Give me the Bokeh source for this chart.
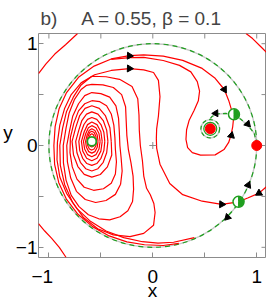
from bokeh.plotting import figure
from bokeh.models import Range1d, FixedTicker
from bokeh.embed import file_html
from bokeh.resources import INLINE
import math

# ---------------- data ----------------
tick_values = [-1, -0.5, 0, 0.5, 1]
x_tick_labels = {-1: "\u22121\u2002\u2009", -0.5: "", 0: "0", 0.5: "", 1: "1"}
y_tick_labels = {-1: "\u22121", -0.5: "", 0: "0", 0.5: "", 1: "1"}

center_pt = (-0.587, 0.04)
stable_pts_x = [0.553, 1.0]
stable_pts_y = [0.164, 0.0]
saddle_pts_x = [0.781, 0.825]
saddle_pts_y = [0.306, -0.553]
small_cycle = (0.553, 0.164, 0.09)

orbit_1 = [(-0.557, 0.040), (-0.561, 0.078), (-0.572, 0.105), (-0.587, 0.115), (-0.602, 0.105), (-0.613, 0.078),
           (-0.617, 0.040), (-0.613, 0.013), (-0.602, -0.008), (-0.587, -0.015), (-0.572, -0.008), (-0.561, 0.013)]
orbit_2 = [(-0.542, 0.040), (-0.548, 0.090), (-0.565, 0.127), (-0.587, 0.140), (-0.608, 0.127), (-0.623, 0.090),
           (-0.632, 0.040), (-0.626, -0.003), (-0.610, -0.034), (-0.587, -0.045), (-0.565, -0.034), (-0.548, -0.003)]
orbit_3 = [(-0.527, 0.040), (-0.535, 0.103), (-0.557, 0.148), (-0.587, 0.165), (-0.612, 0.148), (-0.632, 0.103),
           (-0.647, 0.040), (-0.639, -0.018), (-0.617, -0.060), (-0.587, -0.075), (-0.557, -0.060), (-0.535, -0.018)]
orbit_4 = [(-0.507, 0.040), (-0.518, 0.118), (-0.547, 0.174), (-0.587, 0.195), (-0.620, 0.174), (-0.645, 0.118),
           (-0.667, 0.040), (-0.656, -0.035), (-0.627, -0.090), (-0.587, -0.110), (-0.547, -0.090), (-0.518, -0.035)]
orbit_5 = [(-0.487, 0.040), (-0.500, 0.135), (-0.537, 0.205), (-0.587, 0.230), (-0.628, 0.205), (-0.660, 0.135),
           (-0.687, 0.040), (-0.674, -0.055), (-0.637, -0.125), (-0.587, -0.150), (-0.537, -0.125), (-0.500, -0.055)]
orbit_6 = [(-0.462, 0.040), (-0.471, 0.130), (-0.499, 0.206), (-0.539, 0.257), (-0.587, 0.275), (-0.628, 0.257),
           (-0.663, 0.206), (-0.690, 0.130), (-0.712, 0.040), (-0.703, -0.050), (-0.675, -0.126), (-0.635, -0.177),
           (-0.587, -0.195), (-0.539, -0.177), (-0.499, -0.126), (-0.471, -0.050)]
orbit_7 = [(-0.432, 0.040), (-0.444, 0.151), (-0.477, 0.245), (-0.528, 0.308), (-0.587, 0.330), (-0.638, 0.308),
           (-0.683, 0.245), (-0.712, 0.151), (-0.742, 0.040), (-0.730, -0.071), (-0.697, -0.165), (-0.646, -0.228),
           (-0.587, -0.250), (-0.528, -0.228), (-0.477, -0.165), (-0.444, -0.071)]
orbit_8 = [(-0.400, 0.040), (-0.413, 0.175), (-0.455, 0.290), (-0.515, 0.365), (-0.587, 0.390), (-0.652, 0.365),
           (-0.705, 0.290), (-0.742, 0.175), (-0.777, 0.040), (-0.763, -0.094), (-0.721, -0.207), (-0.660, -0.283),
           (-0.587, -0.310), (-0.505, -0.285), (-0.437, -0.210), (-0.395, -0.094)]
orbit_9 = [(-0.587, 0.44), (-0.51, 0.43), (-0.445, 0.39), (-0.40, 0.31), (-0.375, 0.20), (-0.365, 0.08),
           (-0.36, -0.04), (-0.35, -0.16), (-0.36, -0.28), (-0.40, -0.37), (-0.475, -0.425), (-0.57, -0.44),
           (-0.66, -0.41), (-0.73, -0.33), (-0.775, -0.21), (-0.797, -0.07), (-0.793, 0.08), (-0.76, 0.22),
           (-0.715, 0.34), (-0.655, 0.41)]
orbit_10 = [(-0.587, 0.52), (-0.50, 0.51), (-0.415, 0.475), (-0.355, 0.39), (-0.33, 0.27), (-0.322, 0.13),
            (-0.317, 0.00), (-0.305, -0.12), (-0.295, -0.25), (-0.31, -0.38), (-0.36, -0.48), (-0.45, -0.54),
            (-0.55, -0.56), (-0.65, -0.53), (-0.735, -0.45), (-0.79, -0.32), (-0.822, -0.16), (-0.828, 0.0),
            (-0.80, 0.15), (-0.77, 0.29), (-0.715, 0.41), (-0.655, 0.49)]
orbit_11 = [(-0.587, 0.60), (-0.48, 0.595), (-0.38, 0.57), (-0.30, 0.50), (-0.262, 0.38), (-0.256, 0.24),
            (-0.25, 0.10), (-0.235, -0.04), (-0.21, -0.17), (-0.19, -0.30), (-0.185, -0.43), (-0.195, -0.55),
            (-0.24, -0.64), (-0.315, -0.70), (-0.415, -0.73), (-0.52, -0.72), (-0.62, -0.68), (-0.71, -0.60),
            (-0.785, -0.49), (-0.835, -0.34), (-0.86, -0.17), (-0.862, 0.0), (-0.835, 0.17), (-0.805, 0.32),
            (-0.755, 0.45), (-0.69, 0.55), (-0.64, 0.59)]
orbit_12 = [(-0.587, 0.68), (-0.45, 0.675), (-0.32, 0.65), (-0.20, 0.58), (-0.145, 0.46), (-0.133, 0.30),
            (-0.13, 0.15), (-0.12, 0.0), (-0.10, -0.15), (-0.087, -0.30), (-0.06, -0.42), (-0.024, -0.483),
            (0.010, -0.57), (0.022, -0.658), (0.007, -0.784), (-0.087, -0.863), (-0.22, -0.895), (-0.38, -0.878),
            (-0.53, -0.818), (-0.665, -0.71), (-0.772, -0.56), (-0.848, -0.385), (-0.89, -0.195), (-0.895, 0.0),
            (-0.868, 0.17), (-0.83, 0.335), (-0.765, 0.475), (-0.69, 0.595)]

branch_a = [(0.25, -0.962), (0.10, -0.982), (-0.08, -0.975), (-0.25, -0.947), (-0.42, -0.888), (-0.58, -0.797),
            (-0.72, -0.676), (-0.83, -0.53), (-0.905, -0.365), (-0.945, -0.185), (-0.952, 0.0),
            (-0.94, 0.185), (-0.902, 0.36), (-0.83, 0.52), (-0.715, 0.67), (-0.565, 0.78), (-0.40, 0.85),
            (-0.225, 0.882), (-0.087, 0.89), (0.10, 0.877), (0.288, 0.836), (0.475, 0.757), (0.60, 0.66),
            (0.688, 0.55), (0.731, 0.44), (0.763, 0.33), (0.781, 0.306)]
branch_c = [(-0.40, 0.845), (-0.225, 0.864), (-0.087, 0.866), (0.10, 0.835), (0.257, 0.787), (0.366, 0.723),
            (0.428, 0.628), (0.45, 0.534), (0.438, 0.439), (0.397, 0.344), (0.35, 0.249), (0.325, 0.155),
            (0.319, 0.06), (0.335, -0.02), (0.38, -0.07), (0.459, -0.095), (0.60, -0.092), (0.685, -0.04),
            (0.73, 0.03), (0.752, 0.10), (0.769, 0.186), (0.781, 0.306)]
branch_b = [(0.40, -0.905), (0.20, -0.95), (0.05, -0.958), (-0.10, -0.945), (-0.28, -0.905), (-0.45, -0.84),
            (-0.60, -0.745), (-0.73, -0.62), (-0.83, -0.47), (-0.895, -0.31), (-0.922, -0.14), (-0.918, 0.03),
            (-0.895, 0.20), (-0.85, 0.36), (-0.785, 0.50), (-0.69, 0.615), (-0.56, 0.695), (-0.40, 0.737),
            (-0.225, 0.755), (-0.087, 0.742), (0.007, 0.717), (0.054, 0.64), (0.069, 0.48),
            (0.054, 0.29), (0.037, 0.164), (0.034, 0.069), (0.037, -0.025), (0.069, -0.184), (0.163, -0.373),
            (0.288, -0.483), (0.475, -0.547), (0.663, -0.578), (0.825, -0.553), (0.913, -0.516),
            (1.022, -0.468), (1.094, -0.405)]
outer_tl = [(-1.1, 0.707), (-1.03, 0.80), (-0.943, 0.898), (-0.84, 0.99), (-0.724, 1.1)]
outer_bl = [(-1.1, -0.768), (-1.04, -0.84), (-0.975, -0.91), (-0.90, -1.00), (-0.834, -1.1)]
outer_tr = [(0.897, 1.1), (0.96, 1.05), (1.03, 0.98), (1.094, 0.914)]

unstable_left = [(0.781, 0.306), (0.70, 0.315), (0.62, 0.31), (0.57, 0.285), (0.545, 0.254)]
unstable_right = [(0.781, 0.306), (0.85, 0.256), (0.918, 0.192), (0.975, 0.123), (0.997, 0.03)]

arrow_x = [-0.225, -0.225, 0.688, 0.756, 0.606, 0.913, 0.918, 0.719, 0.663, 1.022]
arrow_y = [0.881, 0.756, 0.55, 0.098, 0.316, 0.211, -0.389, -0.705, -0.578, -0.468]
arrow_dir_deg = [-3, -2, -59, 77, 182, -47, 67, -134, -2, 211]

title_text = "b)\u2003\u2005A = 0.55, \u03b2 = 0.1"
x_label = "x"
y_label = "y"

# ---------------- styles ----------------
RED = "#ff0000"
GREEN = "#1f9f1f"
GREY = "#8c8c8c"
UNDER = "#c8c8c8"
FONT = "Liberation Sans"
FS = "19px"
X0, X1, Y0, Y1 = -1.1, 1.094, -1.1, 1.1

p = figure(width=266, height=303, x_range=Range1d(X0, X1), y_range=Range1d(Y0, Y1),
           output_backend="svg", toolbar_location=None,
           min_border_left=32, min_border_right=0, min_border_top=31, min_border_bottom=40)
p.background_fill_color = "white"
p.border_fill_color = "white"
p.outline_line_color = GREY
p.outline_line_width = 1
p.grid.visible = False

p.title.text = title_text
p.title.text_font = FONT
p.title.text_font_size = FS
p.title.text_font_style = "normal"
p.title.align = "left"
p.title.offset = 2
p.title.standoff = 10

for ax in (p.xaxis[0], p.yaxis[0]):
    ax.ticker = FixedTicker(ticks=tick_values)
    ax.minor_tick_line_color = None
    ax.major_tick_in = 5
    ax.major_tick_out = 0
    ax.major_tick_line_color = GREY
    ax.axis_line_color = None
    ax.major_label_text_font = FONT
    ax.major_label_text_font_size = FS
    ax.major_label_text_color = "black"
    ax.axis_label_text_font = FONT
    ax.axis_label_text_font_size = FS
    ax.axis_label_text_font_style = "normal"
    ax.axis_label_text_color = "black"
p.xaxis.major_label_overrides = x_tick_labels
p.yaxis.major_label_overrides = y_tick_labels
p.xaxis.axis_label = x_label
p.xaxis.major_label_standoff = 8
p.xaxis.axis_label_standoff = -10
p.yaxis.axis_label = y_label + "\n"
p.yaxis.axis_label_orientation = "horizontal"
p.yaxis.axis_label_standoff = 0
p.yaxis.major_label_standoff = 1

# inward ticks on the top and right edges of the box (half of each dash is clipped by the frame)
p.scatter(x=tick_values, y=[Y1] * len(tick_values), marker="dash", angle=math.pi / 2, size=10,
          line_color=GREY, line_width=1)
p.scatter(x=[X1] * len(tick_values), y=tick_values, marker="dash", size=10, line_color=GREY, line_width=1)

def xs(pts, close=False):
    v = [q[0] for q in pts]
    return v + [v[0]] if close else v

def ys(pts, close=False):
    v = [q[1] for q in pts]
    return v + [v[0]] if close else v

# unit circle (invariant), grey underlay + green dashes
p.ellipse(x=[0], y=[0], width=[2], height=[2], fill_color=None, line_color=UNDER, line_width=1.4)
p.ellipse(x=[0], y=[0], width=[2], height=[2], fill_color=None, line_color=GREEN, line_width=1.2,
          line_dash="5 4")

orbits = [orbit_1, orbit_2, orbit_3, orbit_4, orbit_5, orbit_6, orbit_7, orbit_8, orbit_9, orbit_10,
          orbit_11, orbit_12]
p.multi_line(xs=[xs(o, True) for o in orbits], ys=[ys(o, True) for o in orbits], line_color=RED, line_width=1.2)
opens = [branch_a, branch_c, branch_b, outer_tl, outer_bl, outer_tr]
p.multi_line(xs=[xs(o) for o in opens], ys=[ys(o) for o in opens], line_color=RED, line_width=1.2)

uns = [unstable_left, unstable_right]
p.multi_line(xs=[xs(o) for o in uns], ys=[ys(o) for o in uns], line_color=UNDER, line_width=1.4)
p.multi_line(xs=[xs(o) for o in uns], ys=[ys(o) for o in uns], line_color=GREEN, line_width=1.2, line_dash="4 3")
cx, cy, cr = small_cycle
p.ellipse(x=[cx], y=[cy], width=[2 * cr], height=[2 * cr], fill_color=None, line_color=UNDER, line_width=1.4)
p.ellipse(x=[cx], y=[cy], width=[2 * cr], height=[2 * cr], fill_color=None, line_color=GREEN, line_width=1.2,
          line_dash="4 3")

# arrows
p.scatter(x=arrow_x, y=arrow_y, marker="triangle", size=7,
          angle=[math.radians(d - 90) for d in arrow_dir_deg], fill_color="black", line_color="black")

# origin marker
p.scatter(x=[0], y=[0], marker="cross", size=7, line_color=GREY, line_width=1)

# fixed points
p.scatter(x=[stable_pts_x[0]], y=[stable_pts_y[0]], marker="circle", size=13, fill_color=None,
          line_color=GREEN, line_width=1.2)
p.scatter(x=stable_pts_x, y=stable_pts_y, marker="circle", size=10, fill_color=RED, line_color=RED)
p.scatter(x=[center_pt[0]], y=[center_pt[1]], marker="circle", size=9, fill_color="white",
          line_color=GREEN, line_width=1.8)
p.scatter(x=saddle_pts_x, y=saddle_pts_y, marker="circle", size=11, fill_color="white",
          line_color=GREEN, line_width=1.5)
p.wedge(x=saddle_pts_x, y=saddle_pts_y, radius=0.048, start_angle=-math.pi / 2, end_angle=math.pi / 2,
        fill_color=GREEN, line_color=GREEN)

open("out.html", "w").write(file_html(p, INLINE))
